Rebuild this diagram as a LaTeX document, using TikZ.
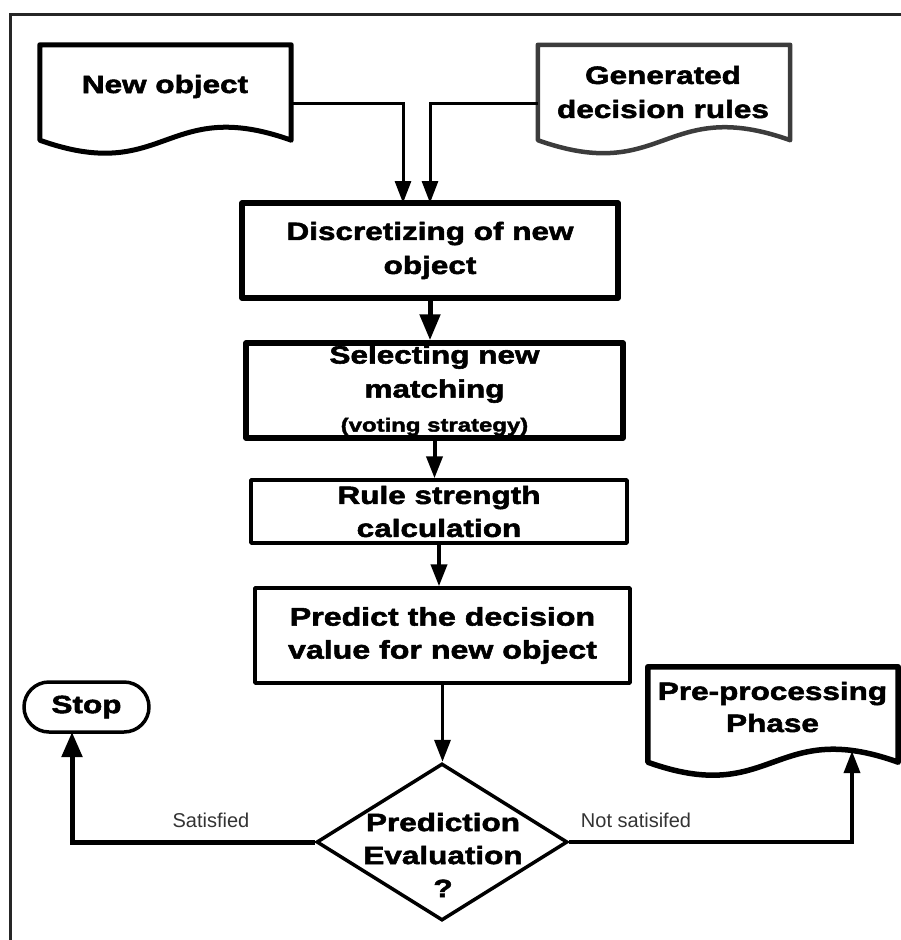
\documentclass[tikz,border=0pt]{standalone}
\usepackage{fontspec}
\setmainfont{Liberation Sans}
\newfontfamily\hb[FakeStretch=1.26,FakeBold=2.2]{Liberation Sans Bold}
\usetikzlibrary{arrows.meta,calc,shapes.geometric}
\definecolor{docgray}{HTML}{3C3C3C}
\definecolor{lblgray}{HTML}{333333}
\tikzset{
  frame/.style={line width=3pt,draw=black!85},
  boxtxt/.style={font=\hb\fontsize{25}{34}\selectfont,align=center,inner sep=0pt},
  procbox/.style={draw,rectangle,boxtxt,line join=round},
  docarea/.style={rectangle,inner sep=0pt},
  docline/.style={line join=round},
  conn/.style={line width=#1,-{Triangle[length=22pt,width=16pt]}},
  conn/.default=3pt,
  lbl/.style={font=\fontsize{20}{24}\selectfont,text=lblgray,inner sep=0pt,anchor=base}
}
\begin{document}
\begin{tikzpicture}[x=1pt,y=-1pt]
\useasboundingbox (0,0) rectangle (901,940);
\draw[frame] (10,940) -- (10,14) -- (901,14);

% document shapes
\node[docarea,minimum width=251pt,minimum height=95pt] (newobj) at (165.5,92.5) {};
\draw[docline,line width=5pt] (newobj.south west) -- (newobj.north west) -- (newobj.north east) -- (newobj.south east)
  .. controls ($(newobj.south)+(0,-45)$) and ($(newobj.south)+(0,45)$) .. (newobj.south west) -- cycle;
\node[boxtxt,anchor=base] (newobjt) at (165,93) {New object};

\node[docarea,minimum width=252pt,minimum height=95pt] (genrules) at (664,92.5) {};
\draw[docline,line width=4.5pt,draw=docgray] (genrules.south west) -- (genrules.north west) -- (genrules.north east) -- (genrules.south east)
  .. controls ($(genrules.south)+(0,-45)$) and ($(genrules.south)+(0,45)$) .. (genrules.south west) -- cycle;
\node[boxtxt] (genrulest) at (663,92) {Generated\\decision rules};

\node[docarea,minimum width=250pt,minimum height=95pt] (prep) at (773,714.5) {};
\draw[docline,line width=5.5pt] (prep.south west) -- (prep.north west) -- (prep.north east) -- (prep.south east)
  .. controls ($(prep.south)+(0,-45)$) and ($(prep.south)+(0,45)$) .. (prep.south west) -- cycle;
\node[boxtxt,font=\hb\fontsize{25}{32}\selectfont] (prept) at (772.5,707) {Pre-processing\\Phase};

% process boxes
\node[procbox,line width=5.5pt,minimum width=376pt,minimum height=95pt] (disc) at (430,250.5) {Discretizing of new\\object};
\node[procbox,line width=5.5pt,minimum width=377pt,minimum height=95pt] (sel) at (434.5,390.5)
  {\fontsize{25}{29}\selectfont Selecting new\\matching\\{\fontsize{19}{30}\selectfont (voting strategy)}};
\node[procbox,line width=3.5pt,minimum width=376pt,minimum height=63pt,font=\hb\fontsize{25}{33}\selectfont] (rule) at (439,511.5) {Rule strength\\calculation};
\node[procbox,line width=3.5pt,minimum width=375pt,minimum height=95pt,font=\hb\fontsize{25.5}{33}\selectfont] (pred) at (442.5,635.5) {Predict the decision\\value for new object};

% decision
\node[diamond,draw,line width=3.5pt,inner sep=0pt,minimum width=251pt,minimum height=157pt] (eval) at (442,842) {};
\node[boxtxt,font=\hb\fontsize{25}{33}\selectfont] (evalt) at (443,855) {Prediction\\Evaluation\\?};

% terminal
\node[procbox,rounded corners=25pt,line width=3.5pt,minimum width=125pt,minimum height=50pt] (stop) at (86.5,707) {Stop};

% connectors
\coordinate (newin) at (403,203);
\coordinate (genin) at (430,203);
\draw[conn=3pt] ($(newobj.east)+(0,10.5)$) -| (newin);
\draw[conn=3pt] ($(genrules.west)+(0,10.5)$) -| (genin);
\draw[line width=5pt,-{Triangle[length=26pt,width=20pt]}] (disc.south) -- (disc.south |- sel.north);
\draw[conn=4pt] (sel.south) -- (sel.south |- rule.north);
\draw[conn=4pt] (rule.south) -- (rule.south |- pred.north);
\draw[conn=3.5pt] (pred.south) -- (pred.south |- eval.north);
\coordinate (stopin) at (72,732);
\draw[line width=5pt,-{Triangle[length=25pt,width=20pt]}] (eval.west) -| (stopin);
\coordinate (prepin) at (852,751);
\draw[conn=3.5pt] (eval.east) -| (prepin);

% labels
\node[lbl] (satl) at (211,827) {Satisfied};
\node[lbl] (nsatl) at (636,827) {Not satisifed};
\end{tikzpicture}
\end{document}
